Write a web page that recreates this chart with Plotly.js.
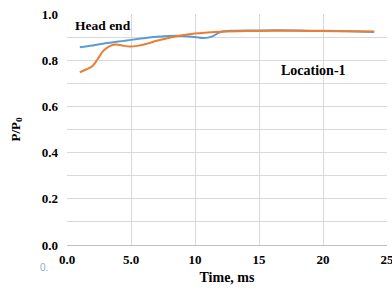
<!DOCTYPE html>
<html><head><meta charset="utf-8">
<script src="https://cdn.plot.ly/plotly-3.0.1.min.js"></script>
<style>html,body{margin:0;padding:0;background:#fff;}#chart{width:392px;height:291px;}</style>
</head><body><div id="chart"></div>
<script>
const headX = [1.0, 2, 3, 4, 5, 6, 7, 8, 9, 10, 10.7, 11.3, 12, 13, 15, 18, 20, 22, 24];
const headY = [0.856, 0.864, 0.873, 0.881, 0.888, 0.895, 0.901, 0.905, 0.905, 0.900, 0.896, 0.902, 0.922, 0.928, 0.929, 0.929, 0.927, 0.925, 0.922];
const locX = [1.0, 1.6, 2.0, 2.4, 2.8, 3.3, 3.8, 4.3, 4.9, 5.5, 6.3, 7, 8, 9, 10, 11, 12, 14, 16, 18, 20, 22, 24];
const locY = [0.748, 0.762, 0.775, 0.805, 0.838, 0.860, 0.868, 0.864, 0.859, 0.862, 0.872, 0.884, 0.897, 0.908, 0.916, 0.920, 0.923, 0.926, 0.927, 0.927, 0.926, 0.925, 0.924];
const xTickVals = [0, 5, 10, 15, 20, 25];
const xTickText = ["0.0", "5.0", "10", "15", "20", "25"];
const yTickVals = [0, 0.1, 0.2, 0.3, 0.4, 0.5, 0.6, 0.7, 0.8, 0.9, 1.0];
const yTickText = ["0.0", "", "0.2", "", "0.4", "", "0.6", "", "0.8", "", "1.0"];

const fam = "Liberation Serif, Times New Roman, serif";
const bold = {family: fam, size: 13, color: "#000", weight: "bold"};
const annFont = {family: fam, size: 13.5, color: "#000", weight: "bold"};
const traces = [
  {x: headX, y: headY, mode: "lines", line: {color: "#5b9bd5", width: 2, shape: "spline", smoothing: 1}, name: "Head end"},
  {x: locX, y: locY, mode: "lines", line: {color: "#ed7d31", width: 2, shape: "spline", smoothing: 1}, name: "Location-1"}
];
const layout = {
  width: 392, height: 291,
  margin: {l: 67, r: 5, t: 14, b: 46},
  paper_bgcolor: "#fff", plot_bgcolor: "#fff",
  showlegend: false,
  font: {family: fam, size: 12, color: "#000"},
  xaxis: {
    range: [0, 25], tickvals: xTickVals, ticktext: xTickText,
    showgrid: true, gridcolor: "#d9d9d9", gridwidth: 1,
    zeroline: false, showline: true, linecolor: "#bfbfbf", linewidth: 1,
    ticks: "", ticklabelstandoff: 2, ticklabeloverflow: "allow",
    tickfont: bold,
    title: {text: "Time, ms", font: {family: fam, size: 14, color: "#000", weight: "bold"}, standoff: 6}
  },
  yaxis: {
    range: [0, 1.0], tickvals: yTickVals, ticktext: yTickText,
    showgrid: true, gridcolor: "#d9d9d9", gridwidth: 1,
    zeroline: false, showline: false,
    ticks: "", ticklabelstandoff: 8,
    tickfont: bold,
    title: {text: "P/P<sub>0</sub>", font: {family: fam, size: 13, color: "#000", weight: "bold"}, standoff: 18}
  },
  annotations: [
    {text: "Head end", x: 0.45, y: 0.95, xref: "x", yref: "y", xanchor: "left", yanchor: "middle", showarrow: false,
     font: annFont},
    {text: "Location-1", x: 16.6, y: 0.755, xref: "x", yref: "y", xanchor: "left", yanchor: "middle", showarrow: false,
     font: {family: fam, size: 14, color: "#000", weight: "bold"}}
  ]
};
// stray label in the reference, placed in pixel terms via paper coords
const pw = 392 - 67 - 5, ph = 291 - 14 - 46;
layout.annotations.push({text: "0.", x: (44 - 67) / pw, y: (245 - 267) / ph, xref: "paper", yref: "paper",
  xanchor: "center", yanchor: "middle", showarrow: false,
  font: {family: "Liberation Sans, Arial, sans-serif", size: 10, color: "#8eaacb"}});
Plotly.newPlot("chart", traces, layout, {displayModeBar: false, staticPlot: true});
</script>
</body></html>
